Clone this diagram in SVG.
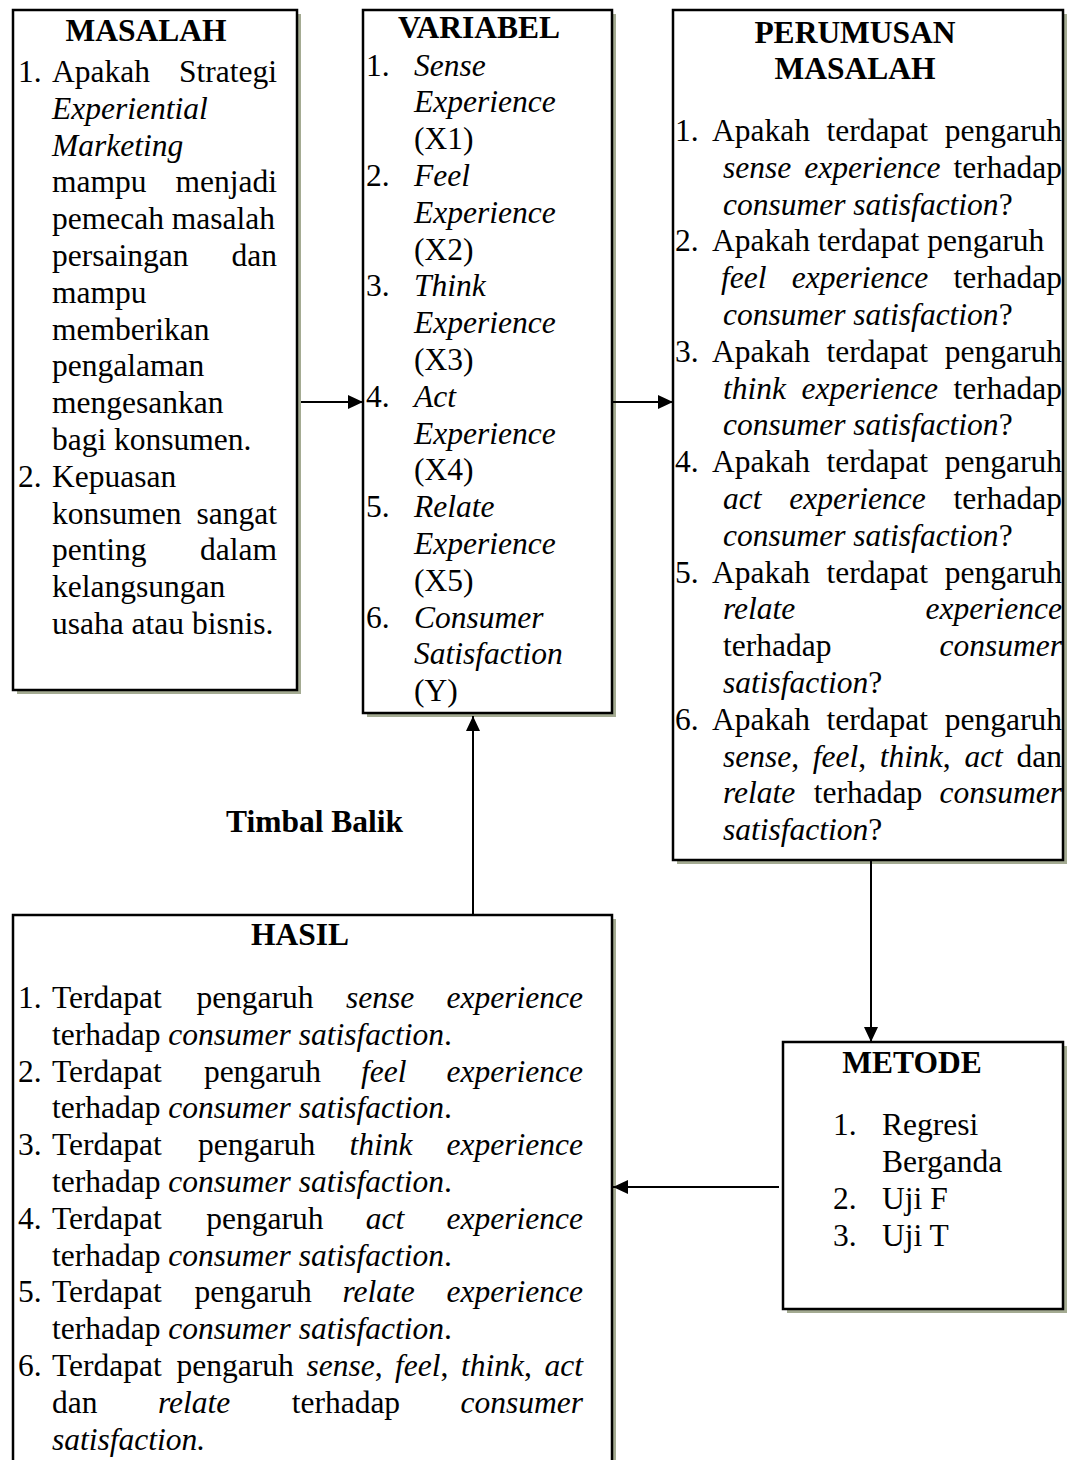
<svg xmlns="http://www.w3.org/2000/svg" width="1070" height="1460" viewBox="0 0 1070 1460">
<defs>
<style>
.box{fill:#fff;stroke:#000;stroke-width:2.5}
.sh{fill:#a4ab92}
text{font-family:"Liberation Serif","Times New Roman",serif;font-size:31.5px;fill:#000}
.b{font-weight:bold}
.i{font-style:italic}
.e{text-anchor:end}
.m{text-anchor:middle}
.c{stroke:#000;stroke-width:2;fill:none}
</style>
<marker id="ah" markerUnits="userSpaceOnUse" markerWidth="16" markerHeight="14" refX="15" refY="7" orient="auto"><path d="M0,0 L15,7 L0,14 Z" fill="#000"/></marker>
</defs>
<rect width="1070" height="1460" fill="#fff"/>

<g id="masalah">
<rect class="sh" x="17" y="14" width="284" height="680"/>
<rect class="box" x="13" y="10" width="284" height="680"/>
<text class="b m" x="146" y="41">MASALAH</text>
<text x="18" y="82">1.</text><text x="52" y="82">Apakah</text><text class="e" x="277" y="82">Strategi</text>
<text class="i" x="52" y="118.8">Experiential</text>
<text class="i" x="52" y="155.6">Marketing</text>
<text x="52" y="192.4">mampu</text><text class="e" x="277" y="192.4">menjadi</text>
<text x="52" y="229.2">pemecah masalah</text>
<text x="52" y="266">persaingan</text><text class="e" x="277" y="266">dan</text>
<text x="52" y="302.8">mampu</text>
<text x="52" y="339.6">memberikan</text>
<text x="52" y="376.4">pengalaman</text>
<text x="52" y="413.2">mengesankan</text>
<text x="52" y="450">bagi konsumen.</text>
<text x="18" y="486.8">2.</text><text x="52" y="486.8">Kepuasan</text>
<text x="52" y="523.6">konsumen</text><text class="e" x="277" y="523.6">sangat</text>
<text x="52" y="560.4">penting</text><text class="e" x="277" y="560.4">dalam</text>
<text x="52" y="597.2">kelangsungan</text>
<text x="52" y="634">usaha atau bisnis.</text>
</g>

<g id="variabel">
<rect class="sh" x="367" y="14" width="249" height="703"/>
<rect class="box" x="363" y="10" width="249" height="703"/>
<text class="b m" x="479" y="38">VARIABEL</text>
<text x="366" y="75.5">1.</text><text class="i" x="414" y="75.5">Sense</text>
<text class="i" x="414" y="112.3">Experience</text>
<text x="414" y="149.1">(X1)</text>
<text x="366" y="185.9">2.</text><text class="i" x="414" y="185.9">Feel</text>
<text class="i" x="414" y="222.7">Experience</text>
<text x="414" y="259.5">(X2)</text>
<text x="366" y="296.3">3.</text><text class="i" x="414" y="296.3">Think</text>
<text class="i" x="414" y="333.1">Experience</text>
<text x="414" y="369.9">(X3)</text>
<text x="366" y="406.7">4.</text><text class="i" x="414" y="406.7">Act</text>
<text class="i" x="414" y="443.5">Experience</text>
<text x="414" y="480.3">(X4)</text>
<text x="366" y="517.1">5.</text><text class="i" x="414" y="517.1">Relate</text>
<text class="i" x="414" y="553.9">Experience</text>
<text x="414" y="590.7">(X5)</text>
<text x="366" y="627.5">6.</text><text class="i" x="414" y="627.5">Consumer</text>
<text class="i" x="414" y="664.3">Satisfaction</text>
<text x="414" y="701.1">(Y)</text>
</g>

<g id="perumusan">
<rect class="sh" x="677" y="14" width="390" height="850"/>
<rect class="box" x="673" y="10" width="390" height="850"/>
<text class="b m" x="855" y="43">PERUMUSAN</text>
<text class="b m" x="855" y="79">MASALAH</text>
<text x="675" y="141">1.</text><text x="712" y="141">Apakah</text><text x="826.6" y="141">terdapat</text><text class="e" x="1062" y="141">pengaruh</text>
<text class="i" x="723" y="177.8">sense</text><text class="i" x="804.2" y="177.8">experience</text><text class="e" x="1062" y="177.8">terhadap</text>
<text x="723" y="214.6"><tspan class="i">consumer satisfaction</tspan>?</text>
<text x="675" y="251.4">2.</text><text x="712" y="251.4">Apakah terdapat pengaruh</text>
<text class="i" x="721" y="288.2">feel</text><text class="i" x="791.8" y="288.2">experience</text><text class="e" x="1062" y="288.2">terhadap</text>
<text x="723" y="325"><tspan class="i">consumer satisfaction</tspan>?</text>
<text x="675" y="361.8">3.</text><text x="712" y="361.8">Apakah</text><text x="826.6" y="361.8">terdapat</text><text class="e" x="1062" y="361.8">pengaruh</text>
<text class="i" x="723" y="398.6">think</text><text class="i" x="801.6" y="398.6">experience</text><text class="e" x="1062" y="398.6">terhadap</text>
<text x="723" y="435.4"><tspan class="i">consumer satisfaction</tspan>?</text>
<text x="675" y="472.2">4.</text><text x="712" y="472.2">Apakah</text><text x="826.6" y="472.2">terdapat</text><text class="e" x="1062" y="472.2">pengaruh</text>
<text class="i" x="723" y="509">act</text><text class="i" x="789.3" y="509">experience</text><text class="e" x="1062" y="509">terhadap</text>
<text x="723" y="545.8"><tspan class="i">consumer satisfaction</tspan>?</text>
<text x="675" y="582.6">5.</text><text x="712" y="582.6">Apakah</text><text x="826.6" y="582.6">terdapat</text><text class="e" x="1062" y="582.6">pengaruh</text>
<text class="i" x="723" y="619.4">relate</text><text class="i e" x="1062" y="619.4">experience</text>
<text x="723" y="656.2">terhadap</text><text class="i e" x="1062" y="656.2">consumer</text>
<text x="723" y="693"><tspan class="i">satisfaction</tspan>?</text>
<text x="675" y="729.8">6.</text><text x="712" y="729.8">Apakah</text><text x="826.6" y="729.8">terdapat</text><text class="e" x="1062" y="729.8">pengaruh</text>
<text x="723" y="766.6"><tspan class="i">sense</tspan>,</text><text x="812.8" y="766.6"><tspan class="i">feel</tspan>,</text><text x="879.8" y="766.6"><tspan class="i">think</tspan>,</text><text class="i" x="964.4" y="766.6">act</text><text class="e" x="1062" y="766.6">dan</text>
<text class="i" x="723" y="803.4">relate</text><text x="813.8" y="803.4">terhadap</text><text class="i e" x="1062" y="803.4">consumer</text>
<text x="723" y="840.2"><tspan class="i">satisfaction</tspan>?</text>
</g>

<g id="hasil">
<rect class="sh" x="17" y="919" width="599" height="560"/>
<rect class="box" x="13" y="915" width="599" height="560"/>
<text class="b m" x="300" y="945">HASIL</text>
<text x="18" y="1008">1.</text><text x="52" y="1008">Terdapat</text><text x="196.4" y="1008">pengaruh</text><text class="i" x="346" y="1008">sense</text><text class="i e" x="583" y="1008">experience</text>
<text x="52" y="1044.8">terhadap <tspan class="i">consumer satisfaction</tspan>.</text>
<text x="18" y="1081.6">2.</text><text x="52" y="1081.6">Terdapat</text><text x="203.9" y="1081.6">pengaruh</text><text class="i" x="361.1" y="1081.6">feel</text><text class="i e" x="583" y="1081.6">experience</text>
<text x="52" y="1118.4">terhadap <tspan class="i">consumer satisfaction</tspan>.</text>
<text x="18" y="1155.2">3.</text><text x="52" y="1155.2">Terdapat</text><text x="198.1" y="1155.2">pengaruh</text><text class="i" x="349.4" y="1155.2">think</text><text class="i e" x="583" y="1155.2">experience</text>
<text x="52" y="1192">terhadap <tspan class="i">consumer satisfaction</tspan>.</text>
<text x="18" y="1228.8">4.</text><text x="52" y="1228.8">Terdapat</text><text x="206.3" y="1228.8">pengaruh</text><text class="i" x="365.8" y="1228.8">act</text><text class="i e" x="583" y="1228.8">experience</text>
<text x="52" y="1265.6">terhadap <tspan class="i">consumer satisfaction</tspan>.</text>
<text x="18" y="1302.4">5.</text><text x="52" y="1302.4">Terdapat</text><text x="194.6" y="1302.4">pengaruh</text><text class="i" x="342.4" y="1302.4">relate</text><text class="i e" x="583" y="1302.4">experience</text>
<text x="52" y="1339.2">terhadap <tspan class="i">consumer satisfaction</tspan>.</text>
<text x="18" y="1376">6.</text><text x="52" y="1376">Terdapat</text><text x="176.6" y="1376">pengaruh</text><text x="306.4" y="1376"><tspan class="i">sense</tspan>,</text><text x="395.1" y="1376"><tspan class="i">feel</tspan>,</text><text x="461" y="1376"><tspan class="i">think</tspan>,</text><text class="i e" x="583" y="1376">act</text>
<text x="52" y="1412.8">dan</text><text class="i" x="157.9" y="1412.8">relate</text><text x="291.7" y="1412.8">terhadap</text><text class="i e" x="583" y="1412.8">consumer</text>
<text class="i" x="52" y="1449.6">satisfaction.</text>
</g>

<g id="metode">
<rect class="sh" x="787" y="1046" width="280" height="267"/>
<rect class="box" x="783" y="1042" width="280" height="267"/>
<text class="b m" x="912" y="1073">METODE</text>
<text x="833" y="1135">1.</text><text x="882" y="1135">Regresi</text>
<text x="882" y="1172">Berganda</text>
<text x="833" y="1209">2.</text><text x="882" y="1209">Uji F</text>
<text x="833" y="1246">3.</text><text x="882" y="1246">Uji T</text>
</g>

<g id="connectors">
<path class="c" d="M301,402 H363" marker-end="url(#ah)"/>
<path class="c" d="M613,402 H673" marker-end="url(#ah)"/>
<path class="c" d="M473,915 V716" marker-end="url(#ah)"/>
<path class="c" d="M871,860 V1042" marker-end="url(#ah)"/>
<path class="c" d="M779,1187 H613" marker-end="url(#ah)"/>
<text class="b" x="226" y="832">Timbal Balik</text>
</g>
</svg>
